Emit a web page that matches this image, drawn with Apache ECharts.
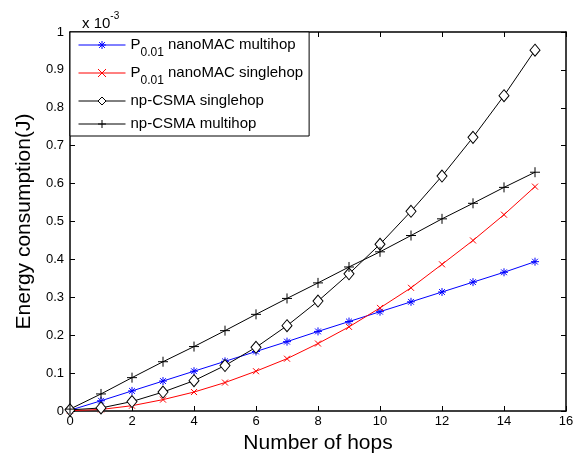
<!DOCTYPE html>
<html>
<head>
<meta charset="utf-8">
<script src="https://cdn.jsdelivr.net/npm/echarts@6/dist/echarts.min.js"></script>
<style>
  html, body { margin: 0; padding: 0; background: #fff; }
  #main { width: 578px; height: 459px; }
</style>
</head>
<body>
<div id="main"></div>
<script>
const chart = echarts.init(document.getElementById('main'))

// hops 0..15, energy in units of 1e-3 J
const hops = [0, 1, 2, 3, 4, 5, 6, 7, 8, 9, 10, 11, 12, 13, 14, 15]
const nanoMultihop = [0.002, 0.027, 0.053, 0.079, 0.105, 0.131, 0.157, 0.183, 0.210, 0.236, 0.262, 0.288, 0.314, 0.340, 0.366, 0.394]
const nanoSinglehop = [0.001, 0.004, 0.014, 0.030, 0.050, 0.075, 0.105, 0.138, 0.178, 0.222, 0.272, 0.325, 0.387, 0.450, 0.518, 0.592]
const csmaSinglehop = [0.003, 0.008, 0.025, 0.050, 0.080, 0.120, 0.168, 0.225, 0.290, 0.362, 0.440, 0.527, 0.620, 0.722, 0.832, 0.952]
const csmaMultihop = [0.005, 0.045, 0.088, 0.130, 0.170, 0.212, 0.255, 0.297, 0.338, 0.380, 0.420, 0.463, 0.507, 0.548, 0.590, 0.630]
const seriesNames = ['P0.01 nanoMAC multihop', 'P0.01 nanoMAC singlehop', 'np-CSMA singlehop', 'np-CSMA multihop']

const font = 'Liberation Sans, Arial, sans-serif'
const pts = arr => hops.map((h, i) => [h, arr[i]])

const plus = 'path://M0,-5L0,5M-5,0L5,0'
const cross = 'path://M-5,-5L5,5M-5,5L5,-5'
const star = 'path://M0,-5L0,5M-5,0L5,0M-3.6,-3.6L3.6,3.6M-3.6,3.6L3.6,-3.6'

function mkSeries(name, data, color, symbol, size, fill) {
  return {
    name: name,
    type: 'line',
    data: pts(data),
    symbol: symbol,
    symbolSize: size,
    showAllSymbol: true,
    lineStyle: { color: color, width: 1 },
    itemStyle: { color: fill, borderColor: color, borderWidth: 1 },
    emphasis: { disabled: true },
    z: 3
  }
}

let option = {
  animation: false,
  backgroundColor: '#fff',
  title: {
    text: '{a|x 10}{b|-3}',
    left: 77,
    top: 6,
    textStyle: {
      rich: {
        a: { fontFamily: font, fontSize: 15, fontWeight: 'normal', color: '#000', verticalAlign: 'bottom', lineHeight: 20 },
        b: { fontFamily: font, fontSize: 10, fontWeight: 'normal', color: '#000', verticalAlign: 'top', padding: [0, 0, 10, 0], lineHeight: 20 }
      }
    }
  },
  legend: {
    orient: 'vertical',
    left: 70,
    top: 32,
    data: seriesNames,
    backgroundColor: '#fff',
    borderColor: '#000',
    borderWidth: 1,
    borderRadius: 0,
    padding: [5, 6, 3, 8],
    itemWidth: 47,
    itemHeight: 10,
    itemGap: 6,
    selectedMode: false,
    lineStyle: { width: 1 },
    itemStyle: { borderWidth: 1 },
    formatter: name => {
      if (name.indexOf('P0.01') === 0) return '{n|P}{s|0.01}{n|' + name.slice(5) + '}'
      return '{n|' + name + '}'
    },
    textStyle: {
      fontFamily: font,
      fontSize: 15,
      color: '#000',
      rich: {
        n: { fontFamily: font, fontSize: 15, color: '#000', lineHeight: 18, verticalAlign: 'bottom', padding: [0, 0, 2, 0] },
        s: { fontFamily: font, fontSize: 12, color: '#000', lineHeight: 18, verticalAlign: 'bottom', padding: [0, 0, -5, 0] }
      }
    }
  },
  grid: { left: 70, right: 12, top: 32, bottom: 47 },
  xAxis: [{
    type: 'value',
    min: 0, max: 16, interval: 2,
    name: 'Number of hops',
    nameLocation: 'middle',
    nameGap: 22,
    nameTextStyle: { fontFamily: font, fontSize: 21, color: '#000' },
    axisLine: { onZero: false, lineStyle: { color: '#000', width: 1.5 } },
    axisTick: { inside: true, length: 5, lineStyle: { color: '#000' } },
    axisLabel: { fontFamily: font, fontSize: 13, color: '#000', margin: 4 },
    splitLine: { show: false }
  }, {
    type: 'value',
    position: 'top',
    min: 0, max: 16, interval: 2,
    axisLine: { onZero: false, lineStyle: { color: '#000', width: 1.5 } },
    axisTick: { inside: true, length: 5, lineStyle: { color: '#000' } },
    axisLabel: { show: false },
    splitLine: { show: false }
  }],
  yAxis: [{
    type: 'value',
    min: 0, max: 1, interval: 0.1,
    name: 'Energy consumption(J)',
    nameLocation: 'middle',
    nameGap: 32,
    nameTextStyle: { fontFamily: font, fontSize: 21, color: '#000' },
    axisLine: { show: true, onZero: false, lineStyle: { color: '#000', width: 1.5 } },
    axisTick: { show: true, inside: true, length: 5, lineStyle: { color: '#000' } },
    axisLabel: {
      fontFamily: font, fontSize: 13, color: '#000', margin: 6,
      formatter: v => String(Math.round(v * 10) / 10)
    },
    splitLine: { show: false }
  }, {
    type: 'value',
    position: 'right',
    min: 0, max: 1, interval: 0.1,
    axisLine: { show: true, onZero: false, lineStyle: { color: '#000', width: 1.5 } },
    axisTick: { show: true, inside: true, length: 5, lineStyle: { color: '#000' } },
    axisLabel: { show: false },
    splitLine: { show: false }
  }],
  series: [
    mkSeries(seriesNames[0], nanoMultihop, '#0000ff', star, 8, 'rgba(0,0,0,0)'),
    mkSeries(seriesNames[1], nanoSinglehop, '#ff0000', cross, 6, 'rgba(0,0,0,0)'),
    mkSeries(seriesNames[2], csmaSinglehop, '#000000', 'diamond', [10, 12], '#ffffff'),
    mkSeries(seriesNames[3], csmaMultihop, '#000000', plus, 10, 'rgba(0,0,0,0)')
  ]
}
chart.setOption(option)
</script>
</body>
</html>
